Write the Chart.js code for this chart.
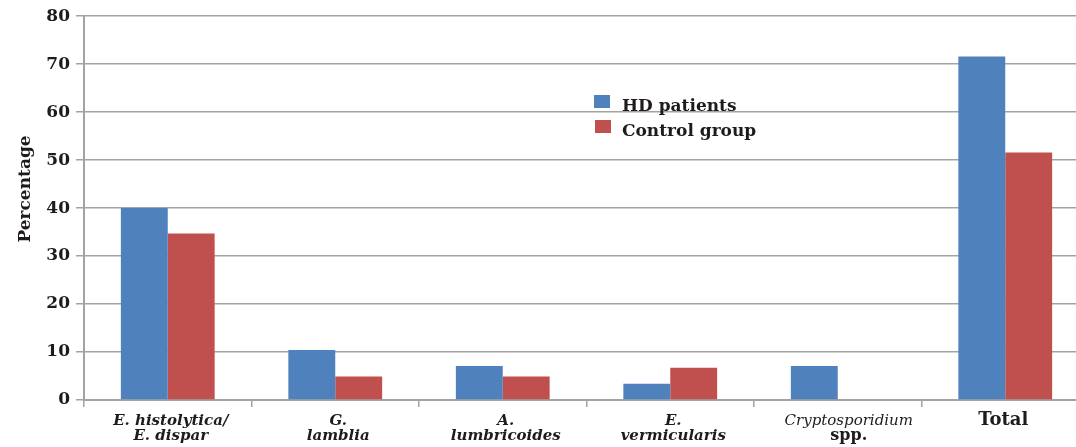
<!DOCTYPE html>
<html>
<head>
<meta charset="utf-8">
<script src="https://cdn.jsdelivr.net/npm/chart.js@4/dist/chart.umd.min.js"></script>
<style>
  html, body { margin: 0; padding: 0; background: #fff; overflow: hidden; }
  #wrap { width: 1090px; height: 447px; }
</style>
</head>
<body>
<div id="wrap"><canvas id="grafico"></canvas></div>
<script>
// datos
const categorias = [
  ['E. histolytica/', 'E. dispar'],
  ['G.', 'lamblia'],
  ['A.', 'lumbricoides'],
  ['E.', 'vermicularis'],
  ['Cryptosporidium', 'spp.'],
  ['Total']
]
const hdPatients = [40.0, 10.4, 7.1, 3.4, 7.1, 71.6]
const controlGroup = [34.7, 4.9, 4.9, 6.7, 0, 51.6]
const yTicks = [0, 10, 20, 30, 40, 50, 60, 70, 80]
const seriesNames = ['HD patients', 'Control group']
const yTitulo = 'Percentage'

const AZUL = '#4F81BD'
const ROJO = '#C0504D'
const GRIS = '#a3a3a3'
const TEXTO = '#1f1b1c'
const SERIF = '"DejaVu Serif", serif'

// fuente de cada linea de la etiqueta
function fuenteEtiqueta(linea) {
  if (linea === 'Total') return 'bold 18px ' + SERIF
  if (linea === 'Cryptosporidium') return 'italic 15px ' + SERIF
  if (linea === 'spp.') return 'bold 16px ' + SERIF
  return 'italic bold 15px ' + SERIF
}

const etiquetasPlugin = {
  id: 'etiquetas',
  afterDraw(chart) {
    const ctx = chart.ctx
    const x = chart.scales.x
    ctx.save()
    ctx.fillStyle = TEXTO
    ctx.textAlign = 'center'
    ctx.textBaseline = 'alphabetic'
    categorias.forEach((lineas, i) => {
      let cx = x.getPixelForValue(i) + 3
      if (lineas[0] === 'Cryptosporidium') cx += 8   // en el original va corrida
      if (lineas[0] === 'Total') cx -= 5
      lineas.forEach((linea, j) => {
        ctx.font = fuenteEtiqueta(linea)
        ctx.fillText(linea, cx, 425 + j * 15)
      })
    })

    // titulo del eje y
    ctx.save()
    ctx.translate(30, 189)
    ctx.rotate(-Math.PI / 2)
    ctx.font = 'bold 17px ' + SERIF
    ctx.fillText(yTitulo, 0, 0)
    ctx.restore()

    // leyenda
    const colores = [AZUL, ROJO]
    ctx.textAlign = 'left'
    ctx.font = 'bold 17px ' + SERIF
    seriesNames.forEach((nombre, i) => {
      const y = 95 + i * 25
      ctx.fillStyle = colores[i]
      ctx.fillRect(594 + i, y, 16, 13)
      ctx.fillStyle = TEXTO
      ctx.fillText(nombre, 622, y + 16)
    })
    ctx.restore()
  }
}

new Chart(document.getElementById('grafico'), {
  type: 'bar',
  data: {
    labels: categorias.map(c => c.join(' ')),
    datasets: [
      { label: seriesNames[0], data: hdPatients, backgroundColor: AZUL },
      { label: seriesNames[1], data: controlGroup, backgroundColor: ROJO }
    ]
  },
  options: {
    responsive: true,
    maintainAspectRatio: false,
    animation: false,
    layout: { padding: { top: 15, right: 1, left: 0, bottom: 0 } },
    datasets: { bar: { categoryPercentage: 0.56, barPercentage: 1 } },
    scales: {
      x: {
        afterFit: s => { s.height = 47 },
        ticks: { color: 'transparent' },
        grid: { offset: true, drawOnChartArea: false, drawTicks: true, tickLength: 7, color: GRIS, lineWidth: 1.5 },
        border: { color: GRIS, width: 2 }
      },
      y: {
        min: 0,
        max: 80,
        afterFit: s => { s.width = 84 },
        afterBuildTicks: s => { s.ticks = yTicks.map(v => ({ value: v })) },
        ticks: { padding: 6, color: TEXTO, font: { family: SERIF, size: 17, weight: 'bold' } },
        grid: { color: GRIS, lineWidth: 1.5, tickLength: 8 },
        border: { color: GRIS, width: 2 }
      }
    },
    plugins: {
      legend: { display: false },
      tooltip: { enabled: false }
    }
  },
  plugins: [etiquetasPlugin]
})
</script>
</body>
</html>
